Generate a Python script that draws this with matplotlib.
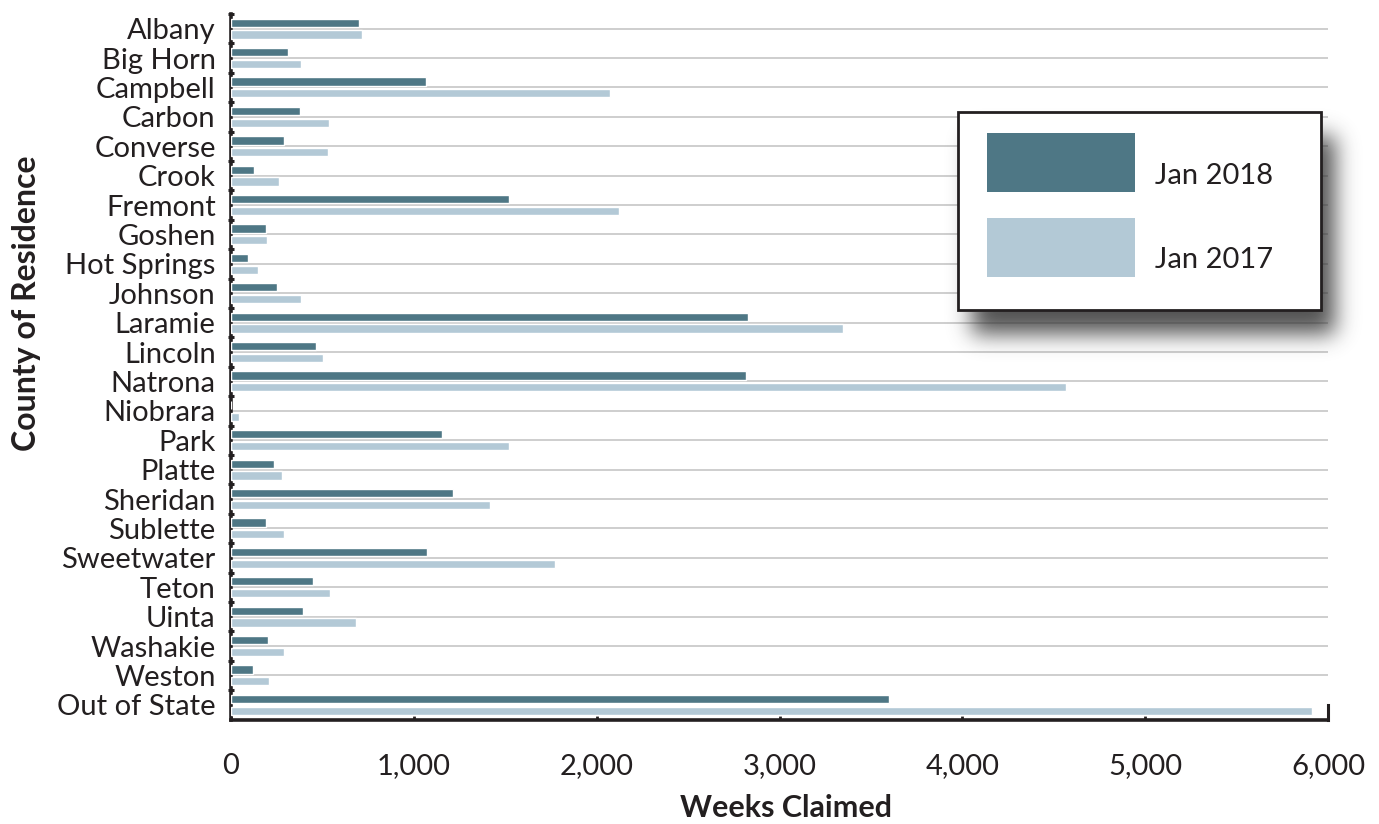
import matplotlib
matplotlib.use("Agg")
import matplotlib.pyplot as plt
from matplotlib.patches import Rectangle
import numpy as np

# ── Data ─────────────────────────────────────────────────────────────────────
counties = ["Albany", "Big Horn", "Campbell", "Carbon", "Converse", "Crook",
            "Fremont", "Goshen", "Hot Springs", "Johnson", "Laramie", "Lincoln",
            "Natrona", "Niobrara", "Park", "Platte", "Sheridan", "Sublette",
            "Sweetwater", "Teton", "Uinta", "Washakie", "Weston", "Out of State"]
jan_2018 = [698, 314, 1065, 377, 290, 128, 1519, 191, 91, 253, 2828, 465,
            2815, 0, 1152, 237, 1214, 190, 1070, 450, 396, 202, 120, 3599]
jan_2017 = [715, 381, 2073, 536, 529, 261, 2122, 197, 148, 385, 3346, 503,
            4567, 45, 1522, 279, 1415, 290, 1770, 543, 682, 292, 206, 5913]
series_names = ["Jan 2018", "Jan 2017"]
x_ticks = [0, 1000, 2000, 3000, 4000, 5000, 6000]

DARK = "#4E7785"
LIGHT = "#B3C9D6"
GRID = "#C6C6C6"
INK = "#231F20"

plt.rcParams["font.family"] = ["Lato", "DejaVu Sans"]

W, H = 1379, 824
fig = plt.figure(figsize=(W / 100, H / 100), dpi=100)
fig.patch.set_facecolor("white")

# axes placed in pixel terms
x0, x1, ytop, ybot = 231, 1328, 14, 719.5
ax = fig.add_axes([x0 / W, (H - ybot) / H, (x1 - x0) / W, (ybot - ytop) / H])

y = np.arange(len(counties))
bh = 0.28
ax.barh(y - 0.2, jan_2018, height=bh, color=DARK, edgecolor="white",
        linewidth=1.0, zorder=3)
ax.barh(y + 0.2, jan_2017, height=bh, color=LIGHT, edgecolor="white",
        linewidth=1.0, zorder=3)

# category grid lines
for yy in y[:-1]:
    ax.axhline(yy, color=GRID, lw=1.2, zorder=1)

ax.set_xlim(0, 6000)
ax.set_ylim(len(counties) - 0.5, -0.5)

ax.set_yticks(y)
ax.set_yticklabels(counties, fontsize=21, color=INK)
ax.tick_params(axis="y", length=0, pad=11)
ax.set_yticks(np.arange(-0.5, len(counties) - 1, 1), minor=True)
ax.tick_params(axis="y", which="minor", length=4, width=2.2,
               direction="inout", color=INK)

ax.set_xticks(x_ticks)
ax.set_xticklabels([f"{v:,}" for v in x_ticks], fontsize=21, color=INK)
ax.tick_params(axis="x", direction="in", length=3, width=2, color=INK, pad=24)

for s in ["top", "right"]:
    ax.spines[s].set_visible(False)
for s in ["left", "bottom"]:
    ax.spines[s].set_linewidth(2.6)
    ax.spines[s].set_color(INK)
# short stub at right end of the axis
ax.axvline(6000, ymin=0, ymax=15 / (ybot - ytop), color=INK, lw=2.2,
           zorder=4, clip_on=False)

fig.text(786 / W, 1 - 808 / H, "Weeks Claimed", ha="center", va="center",
         fontsize=22, fontweight="bold", color=INK)
fig.text(27 / W, 1 - 303 / H, "County of Residence", rotation=90,
         ha="center", va="center", fontsize=23, fontweight="bold", color=INK)

# ── Legend with soft drop shadow ──────────────────────────────────────────────
lx0, lx1, ly0, ly1 = 958, 1321, 112, 310
pad = 70
sw, sh = (lx1 - lx0) + 2 * pad, (ly1 - ly0) + 2 * pad
mask = np.zeros((sh, sw))
dx, dy = 14, 24
mask[pad + dy:pad + dy + (ly1 - ly0), pad + dx:pad + dx + (lx1 - lx0)] = 1.0
k = np.exp(-0.5 * (np.arange(-35, 36) / 11.0) ** 2)
k /= k.sum()
mask = np.apply_along_axis(lambda r: np.convolve(r, k, mode="same"), 1, mask)
mask = np.apply_along_axis(lambda c: np.convolve(c, k, mode="same"), 0, mask)
shadow = np.zeros((sh, sw, 4))
shadow[..., 0:3] = 0.2
shadow[..., 3] = np.clip(mask * 0.85, 0, 1)
fig.figimage(shadow, xo=lx0 - pad, yo=H - ly1 - pad, origin="upper", zorder=1)

def fx(px):
    return px / W

def fy(py):
    return 1 - py / H

fig.add_artist(Rectangle((fx(lx0), fy(ly1)), fx(lx1) - fx(lx0), fy(ly0) - fy(ly1),
                         transform=fig.transFigure, facecolor="white",
                         edgecolor=INK, lw=2, zorder=2))
for (py0, py1), col, name in zip([(133, 192), (218, 277)], [DARK, LIGHT],
                                 series_names):
    fig.add_artist(Rectangle((fx(987), fy(py1)), fx(1135) - fx(987),
                             fy(py0) - fy(py1), transform=fig.transFigure,
                             facecolor=col, edgecolor="none", zorder=3))
    fig.text(fx(1155), fy((py0 + py1) / 2 + 13), name, ha="left", va="center",
             fontsize=21, color=INK, zorder=4)

fig.savefig("out.png", dpi=100, facecolor="white")
